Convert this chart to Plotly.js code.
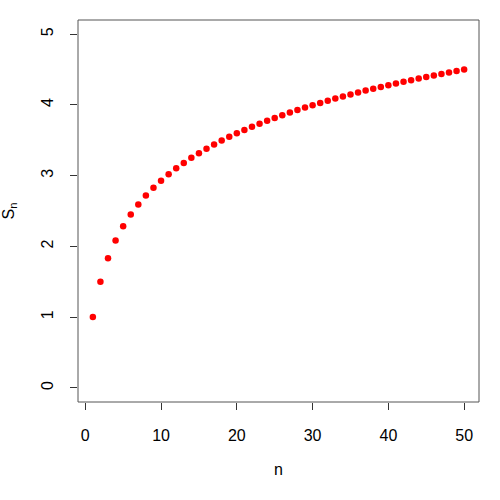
<!DOCTYPE html>
<html><head><meta charset="utf-8">
<script src="https://cdn.plot.ly/plotly-3.0.1.min.js"></script>
<style>html,body{margin:0;padding:0;background:#fff}#chart{width:500px;height:500px}</style>
</head><body><div id="chart"></div>
<script>
const n = [1,2,3,4,5,6,7,8,9,10,11,12,13,14,15,16,17,18,19,20,21,22,23,24,25,26,27,28,29,30,31,32,33,34,35,36,37,38,39,40,41,42,43,44,45,46,47,48,49,50];
const Sn = [1.000,1.500,1.833,2.083,2.283,2.450,2.593,2.718,2.829,2.929,3.020,3.103,3.180,3.252,3.318,3.381,3.440,3.495,3.548,3.598,3.645,3.691,3.734,3.776,3.816,3.854,3.892,3.927,3.962,3.995,4.027,4.059,4.089,4.118,4.147,4.175,4.202,4.228,4.254,4.279,4.303,4.327,4.350,4.373,4.395,4.417,4.438,4.459,4.479,4.499];
const xTicks = [0,10,20,30,40,50];
const yTicks = [0,1,2,3,4,5];
const font = {family:'"Liberation Sans", Arial, sans-serif', size:16, color:'#000'};
Plotly.newPlot('chart', [{
  x: n, y: Sn, type:'scatter', mode:'markers',
  marker:{color:'#ff0000', size:6.5, line:{width:0}}
}], {
  width:500, height:500,
  margin:{l:78, r:21, t:20, b:98},
  paper_bgcolor:'#fff', plot_bgcolor:'#fff',
  font: font,
  showlegend:false,
  xaxis:{range:[-0.96,51.96], tickvals:xTicks, ticktext:xTicks.map(String),
    ticks:'outside', ticklen:7, tickwidth:1, tickcolor:'#333', showgrid:false, zeroline:false,
    showline:false, tickfont:font, ticklabelstandoff:12,
    title:{text:'n', font:font, standoff:20}},
  yaxis:{range:[-0.2,5.2], tickvals:yTicks, ticktext:yTicks.map(String),
    ticks:'outside', ticklen:7, tickwidth:1, tickcolor:'#333', showgrid:false, zeroline:false,
    showline:false, tickfont:font, tickangle:-90, ticklabelstandoff:11,
    title:{text:'S<sub>n</sub>', font:font, standoff:20}},
  shapes:[{type:'rect', xref:'paper', yref:'paper', x0:0, x1:1, y0:0, y1:1,
    line:{color:'#555', width:1}, fillcolor:'rgba(0,0,0,0)'}]
}, {staticPlot:true});
</script></body></html>
